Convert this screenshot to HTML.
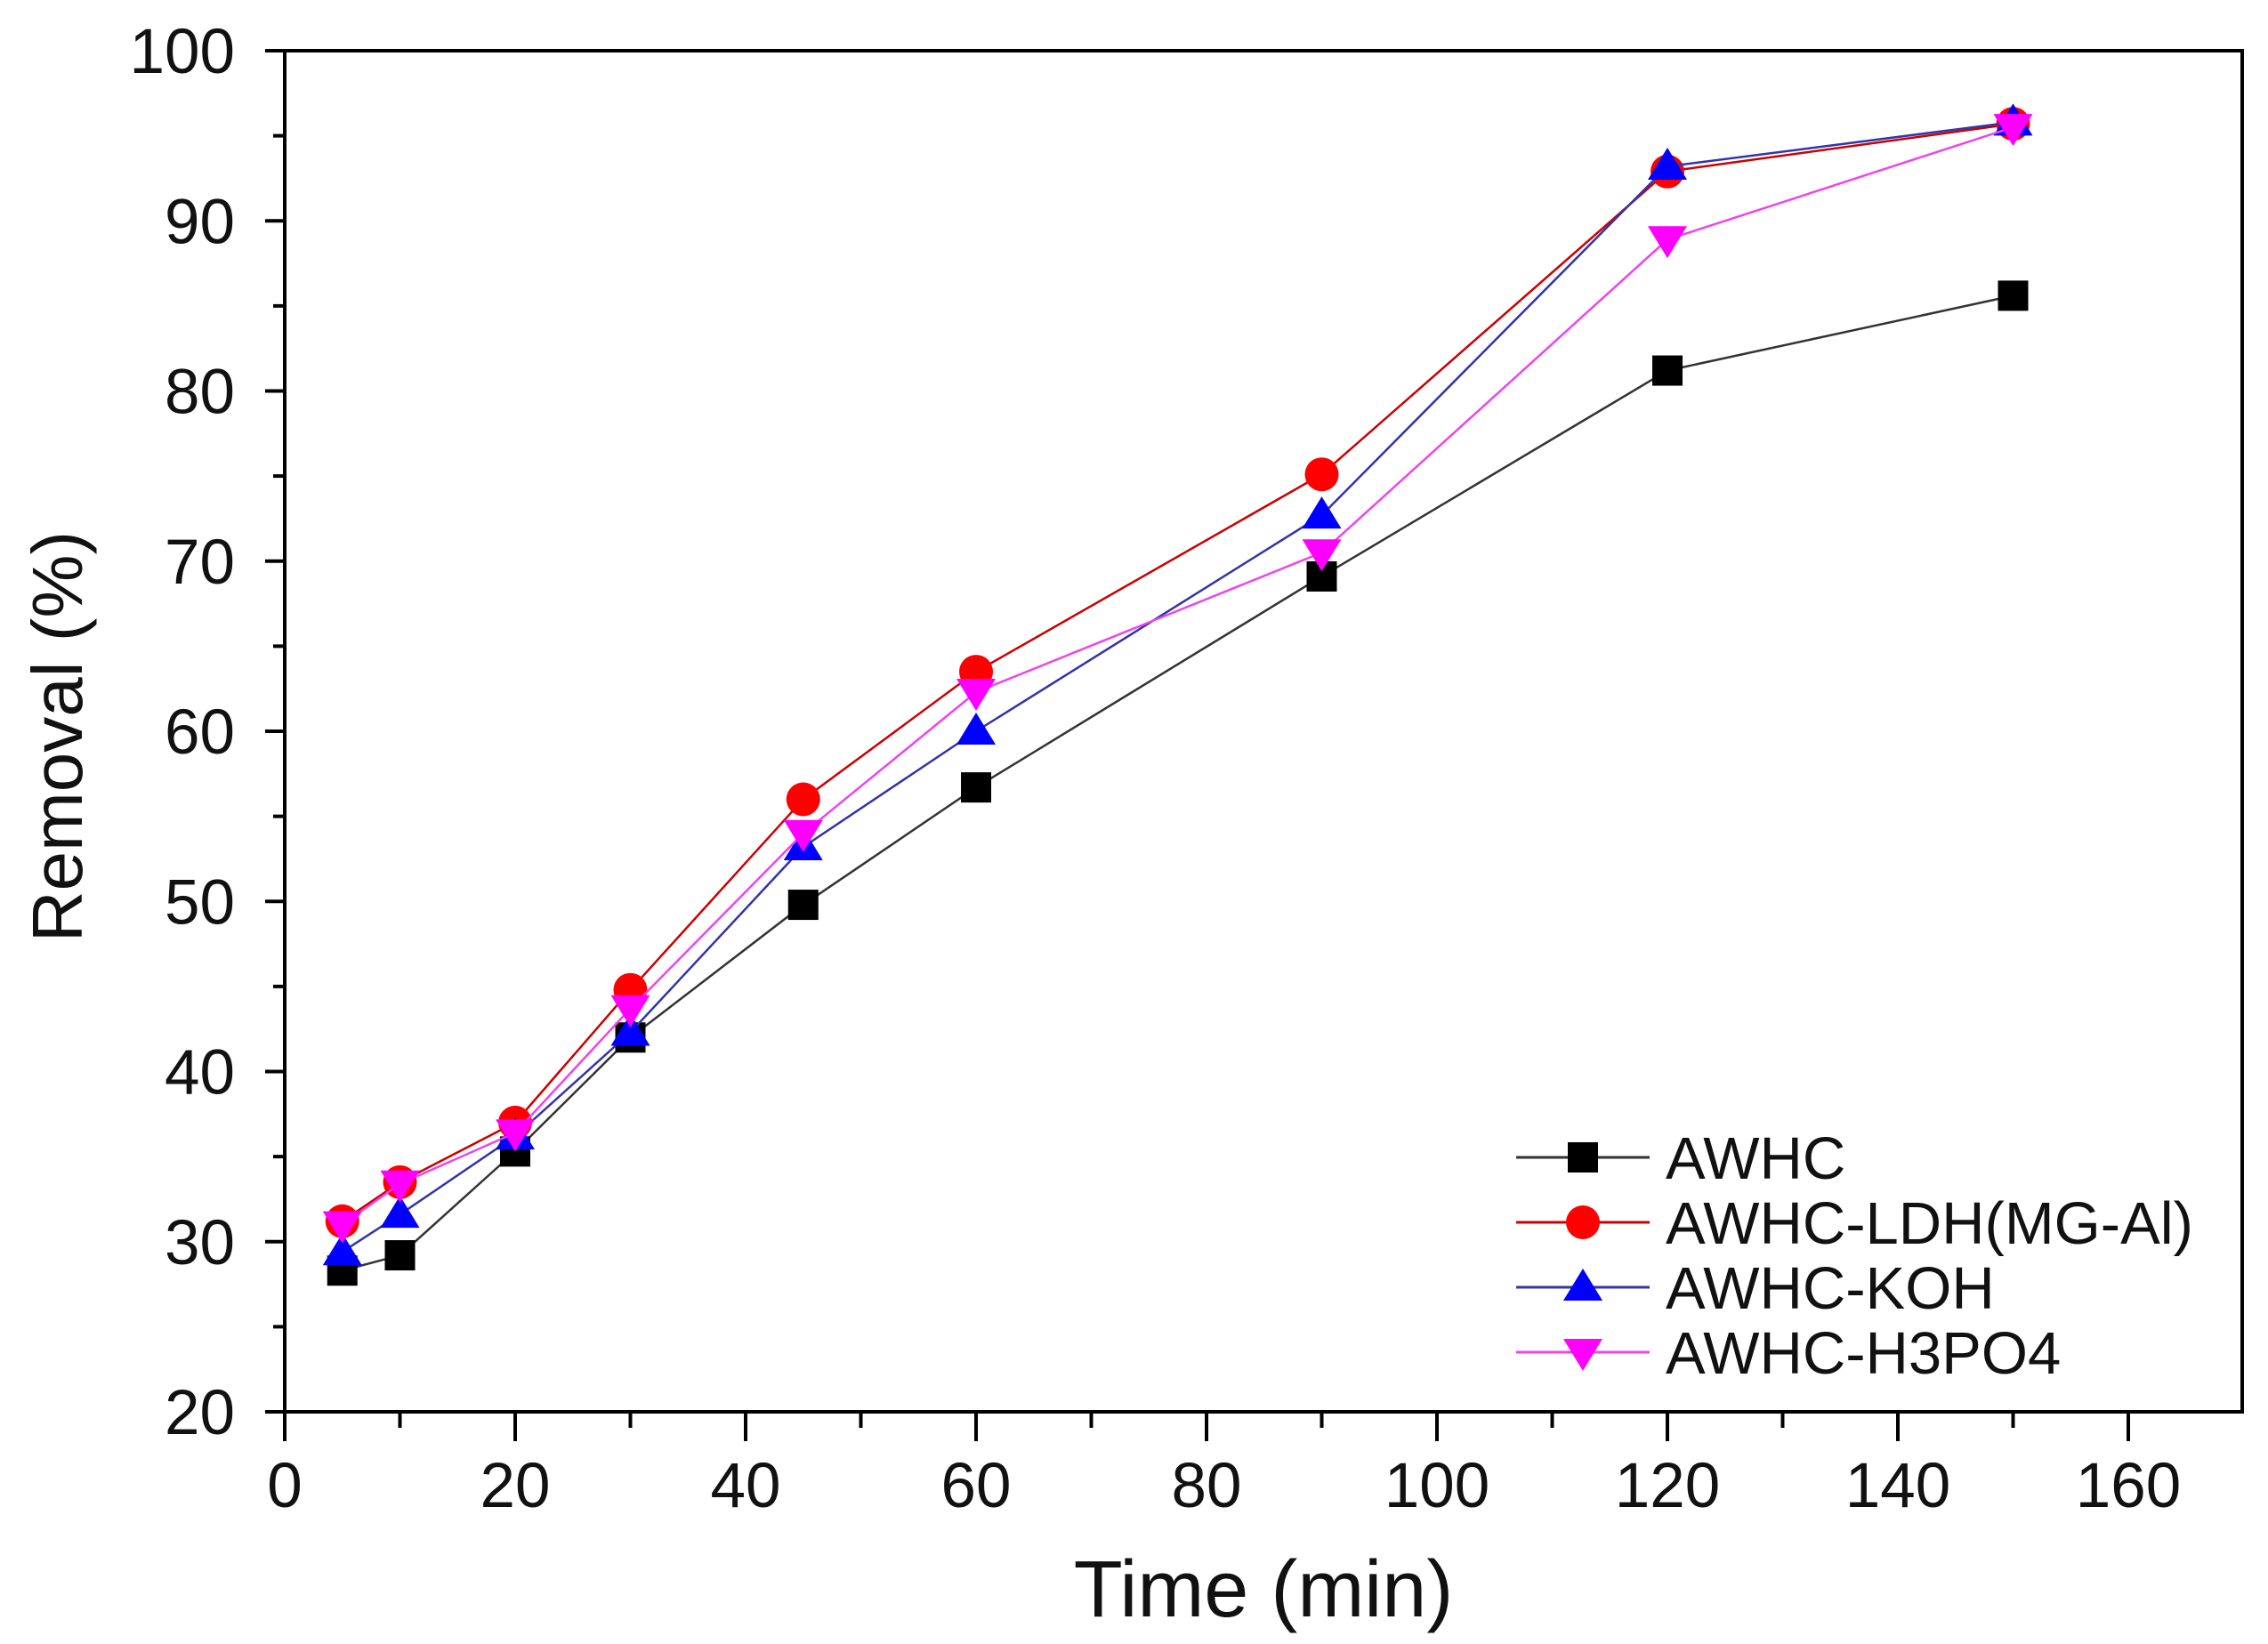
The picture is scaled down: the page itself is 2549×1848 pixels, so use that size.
<!DOCTYPE html>
<html><head><meta charset="utf-8"><style>
html,body{margin:0;padding:0;background:#fff;}
svg{display:block;font-family:"Liberation Sans",Arial,sans-serif;}
</style></head><body>
<svg id="chart" width="2549" height="1848" viewBox="0 0 2549 1848" xmlns="http://www.w3.org/2000/svg">
<rect width="2549" height="1848" fill="#fff"/>
</svg>
<script>
const times = [5, 10, 20, 30, 45, 60, 90, 120, 150];
const awhc = [28.3, 29.2, 35.3, 42.0, 49.8, 56.7, 69.1, 81.2, 85.6];
const ldh = [31.2, 33.5, 37.0, 44.8, 56.0, 63.5, 75.1, 92.9, 95.7];
const koh = [29.4, 31.6, 36.2, 42.3, 53.2, 60.0, 72.7, 93.2, 95.8];
const h3po4 = [31.0, 33.4, 36.4, 43.7, 54.0, 62.3, 70.5, 88.9, 95.5];
const seriesNames = ["AWHC", "AWHC-LDH(MG-Al)", "AWHC-KOH", "AWHC-H3PO4"];
const xTicks = [0, 20, 40, 60, 80, 100, 120, 140, 160];
const yTicks = [20, 30, 40, 50, 60, 70, 80, 90, 100];

const NS = "http://www.w3.org/2000/svg";
const svg = document.getElementById('chart');
const L = 320, R = 2520, T = 57, B = 1587;
const xs = v => L + v * (2392 - L) / 160;
const ys = v => B - (v - 20) * (B - T) / 80;
function mk(tag, attrs, parent) {
  const e = document.createElementNS(NS, tag);
  for (const k in attrs) e.setAttribute(k, attrs[k]);
  (parent || svg).appendChild(e);
  return e;
}
const frame = mk('rect', {x: L, y: T, width: R - L, height: B - T, fill: 'none', stroke: '#000', 'stroke-width': 4});


for (let v = 20; v <= 100; v += 5) {
  const major = v % 10 === 0;
  const t = mk('line', {x1: L - (major ? 22 : 13), x2: L, y1: ys(v), y2: ys(v), stroke: '#000', 'stroke-width': 4});
  
  
}
yTicks.forEach(v => {
  const t = mk('text', {x: 264, y: ys(v) + 25, 'text-anchor': 'end', 'font-size': 71, fill: '#111'});
  t.textContent = v;
  
  
});
for (let v = 0; v <= 160; v += 10) {
  const major = v % 20 === 0;
  const t = mk('line', {x1: xs(v), x2: xs(v), y1: B, y2: B + (major ? 33 : 18), stroke: '#000', 'stroke-width': 4});
  
  
}
xTicks.forEach(v => {
  const t = mk('text', {x: xs(v), y: 1694, 'text-anchor': 'middle', 'font-size': 71, fill: '#111'});
  t.textContent = v;
  
  
});
const xt = mk('text', {x: 1420, y: 1817, 'text-anchor': 'middle', 'font-size': 90, fill: '#111'});
xt.textContent = 'Time (min)';


const yt = mk('text', {x: 0, y: 0, 'text-anchor': 'middle', 'font-size': 80, fill: '#111', transform: 'translate(92,828) rotate(-90)'});
yt.textContent = 'Removal (%)';



const colors = ['#000000', '#ff0000', '#0000ff', '#ff00ff'];
const lineColors = ['#333333', '#cc0000', '#3333aa', '#ee44ee'];
const shapes = ['square', 'circle', 'up', 'down'];
const allData = [awhc, ldh, koh, h3po4];
function marker(shape, cx, cy, color, parent) {
  const s = 17;
  if (shape === 'square') return mk('rect', {x: cx - s, y: cy - s, width: 2 * s, height: 2 * s, fill: color}, parent);
  if (shape === 'circle') return mk('ellipse', {cx: cx, cy: cy, rx: 19, ry: 19, fill: color}, parent);
  if (shape === 'up') return mk('polygon', {points: `${cx},${cy - 21} ${cx - 22},${cy + 15} ${cx + 22},${cy + 15}`, fill: color}, parent);
  return mk('polygon', {points: `${cx},${cy + 21} ${cx - 22},${cy - 15} ${cx + 22},${cy - 15}`, fill: color}, parent);
}
allData.forEach((d, i) => {
  const g = mk('g', {});
  
  
  const pl = mk('polyline', {points: times.map((t, j) => xs(t) + ',' + ys(d[j])).join(' '), fill: 'none', stroke: lineColors[i], 'stroke-width': 2.5}, g);
  
  
  times.forEach((t, j) => {
    const m = marker(shapes[i], xs(t), ys(d[j]), colors[i], g);
    
    
  });
});
const lg = mk('g', {});


const rowsY = [1301, 1374, 1447, 1520];
seriesNames.forEach((n, i) => {
  const e = mk('g', {}, lg);
  
  
  mk('line', {x1: 1704, x2: 1854, y1: rowsY[i], y2: rowsY[i], stroke: lineColors[i], 'stroke-width': 3}, e);
  marker(shapes[i], 1779, rowsY[i], colors[i], e);
  const t = mk('text', {x: 1872, y: rowsY[i] + 24, 'font-size': 67, fill: '#111'}, e);
  t.textContent = n;
});
</script>
</body></html>
